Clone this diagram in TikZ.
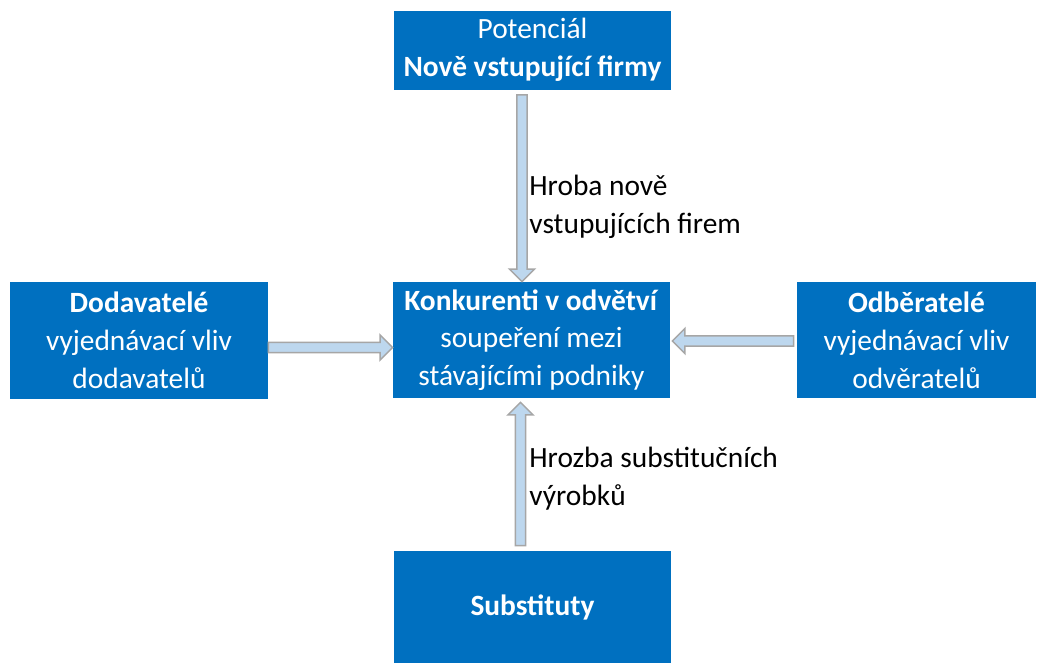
\documentclass[tikz,border=0pt]{standalone}
\usepackage{fontspec}
\setmainfont{Carlito}
\usetikzlibrary{calc}
\definecolor{boxblue}{HTML}{0070C0}
\definecolor{arrfill}{HTML}{BDD7EE}
\definecolor{arrline}{HTML}{A6A6A6}
\begin{document}
\begin{tikzpicture}[x=0.5pt,y=-0.5pt,
  force/.style={fill=boxblue, text=white, draw=none, inner sep=0pt,
    align=center, font=\fontsize{14.7}{18.9}\selectfont},
  note/.style={inner sep=0pt, align=left, anchor=base west,
    font=\fontsize{14.7}{18.9}\selectfont},
  % block arrow drawn along the straight line from start to target
  blockarrow/.style={draw=arrline, fill=arrfill, line width=0.75pt, line join=miter,
    to path={
      let \p1=(\tikztostart), \p2=(\tikztotarget),
          \n1={atan2(\y2-\y1,\x2-\x1)},
          \n2={veclen(\x2-\x1,\y2-\y1)-6.25pt}
      in ($(\p1)+(\n1+90:2.6pt)$)
      -- ++(\n1:\n2)
      -- ++(\n1+90:3.65pt)
      -- (\p2)
      -- ($(\p2)+(\n1+180:6.25pt)+(\n1-90:6.25pt)$)
      -- ++(\n1+90:3.65pt)
      -- ($(\p1)+(\n1-90:2.6pt)$)
      -- cycle
    }}]
\useasboundingbox (0,0) rectangle (1046,664);
\fill[white] (0,0) rectangle (1046,664);

% the five forces
\node[force, minimum width=138.5pt, minimum height=39.5pt] (entrants) at (532.5,50)
  {Potenciál\\\textbf{Nově vstupující firmy}};
\node[force, minimum width=129pt, minimum height=58.5pt] (suppliers) at (139,340.5)
  {\textbf{Dodavatelé}\\vyjednávací vliv\\dodavatelů};
\node[force, minimum width=138.5pt, minimum height=58pt] (rivals) at (531.5,340)
  {\textbf{Konkurenti v odvětví}\\soupeření mezi\\stávajícími podniky};
\node[force, minimum width=119.5pt, minimum height=58pt] (buyers) at (916.5,340)
  {\textbf{Odběratelé}\\vyjednávací vliv\\odvěratelů};
\node[force, minimum width=138.5pt, minimum height=56pt] (substitutes) at (532.5,607)
  {\textbf{Substituty}};

% axis positions of the arrows
\coordinate (vtop) at (522,0);
\coordinate (vbot) at (520.5,0);
\coordinate (hleft) at (0,347.5);
\coordinate (hright) at (0,341);

\draw[blockarrow] ([yshift=-2.5pt]entrants.south -| vtop) to (rivals.north -| vtop);
\draw[blockarrow] ([yshift=2.5pt]substitutes.north -| vbot) to ([yshift=-2pt]rivals.south -| vbot);
\draw[blockarrow] (suppliers.east |- hleft) to (rivals.west |- hleft);
\draw[blockarrow] ([xshift=-1.5pt]buyers.west |- hright) to ([xshift=1pt]rivals.east |- hright);

% labels beside the vertical arrows (anchored at the last baseline)
\node[note] (entrylabel) at (529,233) {Hroba nově\\vstupujících firem};
\node[note] (sublabel) at (529,505) {Hrozba substitučních\\výrobků};
\end{tikzpicture}
\end{document}
